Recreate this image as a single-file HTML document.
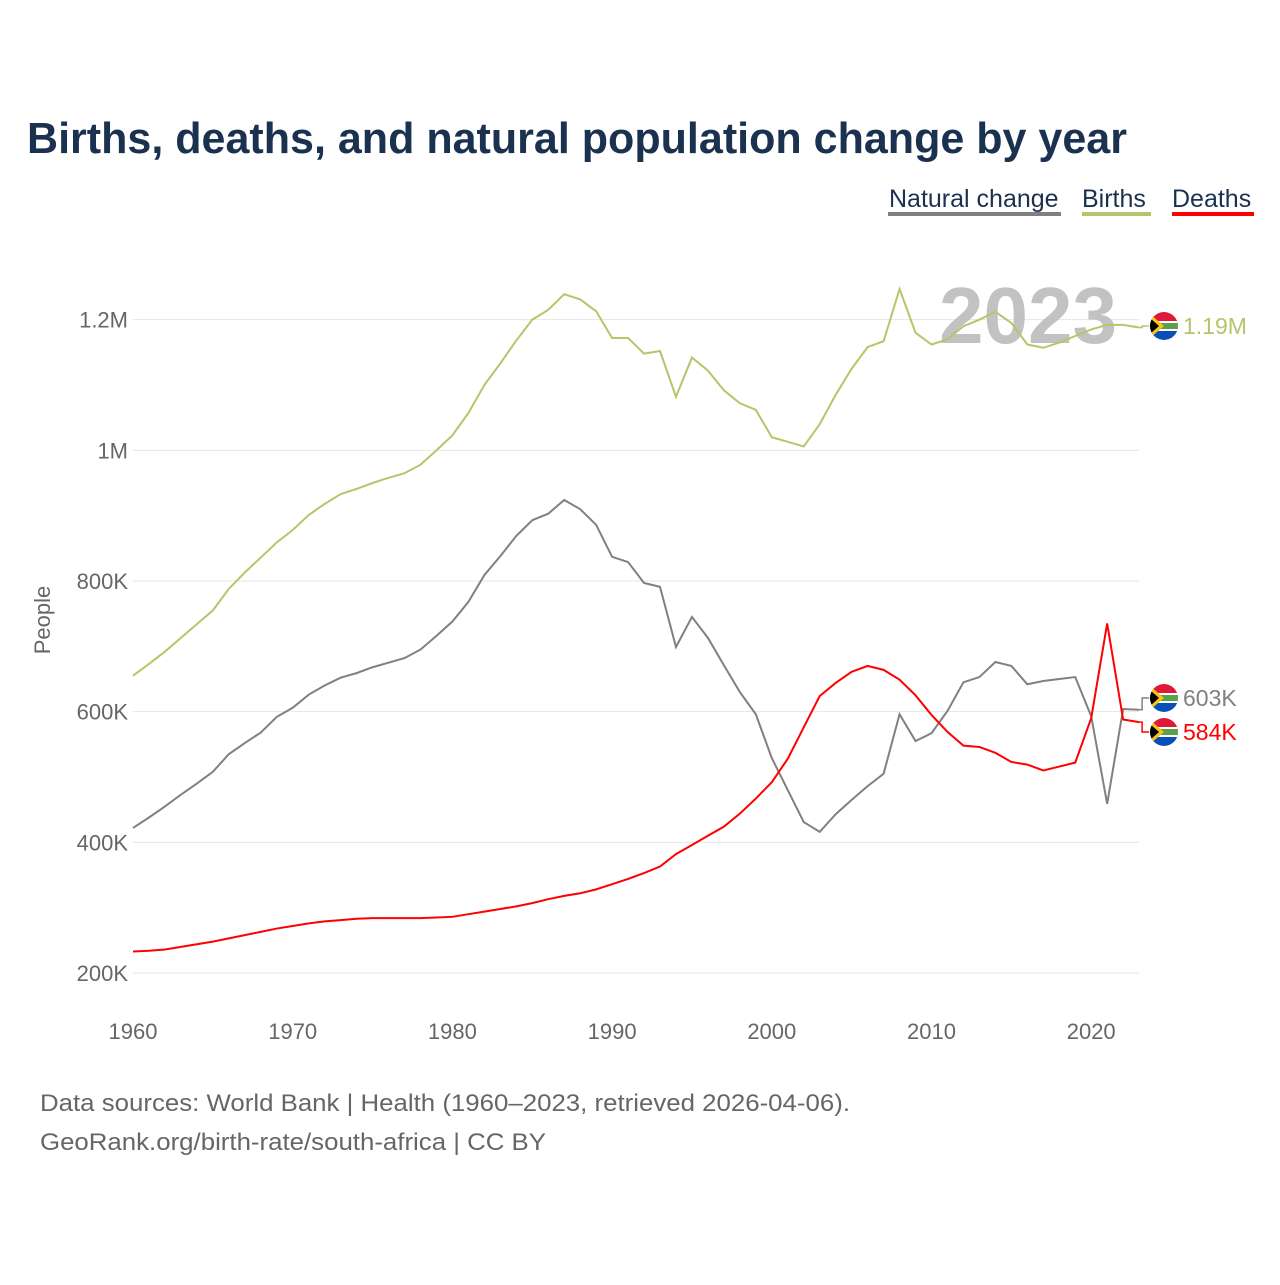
<!DOCTYPE html>
<html><head><meta charset="utf-8"><style>
body{margin:0;background:#fff;}
svg text{font-family:"Liberation Sans",sans-serif;}
</style></head><body>
<svg width="1280" height="1280" viewBox="0 0 1280 1280" xmlns="http://www.w3.org/2000/svg">
<defs>
<clipPath id="fc"><circle cx="0" cy="0" r="14"/></clipPath>
<g id="flag">
<g clip-path="url(#fc)">
<rect x="-14" y="-14" width="28" height="14" fill="#e0193a"/>
<rect x="-14" y="0" width="28" height="14" fill="#0a4fb5"/>
<rect x="-14" y="-5" width="28" height="10" fill="#fff"/>
<rect x="-14" y="-3" width="28" height="6" fill="#5ba14a"/>
<polygon points="-14,-12 0,0 -14,12" fill="#f5c518"/>
<polygon points="-14,-8 -5,0 -14,8" fill="#000"/>
</g></g>
</defs>
<text x="27" y="153" font-size="44" font-weight="bold" fill="#1a3150" textLength="1100" lengthAdjust="spacingAndGlyphs">Births, deaths, and natural population change by year</text>
<g>
<g><text x="889" y="207" font-size="25" fill="#1a3150">Natural change</text><rect x="888" y="212" width="173" height="4" fill="#808080"/></g>
<g><text x="1082" y="207" font-size="25" fill="#1a3150">Births</text><rect x="1082" y="212" width="69" height="4" fill="#b5c56a"/></g>
<g><text x="1172" y="207" font-size="25" fill="#1a3150">Deaths</text><rect x="1172" y="212" width="82" height="4" fill="#ff0000"/></g>
</g>
<g id="grid"></g>
<text x="1117" y="343" font-size="80" font-weight="bold" fill="#bbbbbb" fill-opacity="0.9" text-anchor="end">2023</text>
<g id="lines"></g>
<text transform="translate(50,620) rotate(-90)" font-size="22" fill="#666" text-anchor="middle">People</text>
<text x="40" y="1111" font-size="24" fill="#666" textLength="810" lengthAdjust="spacingAndGlyphs">Data sources: World Bank | Health (1960–2023, retrieved 2026-04-06).</text>
<text x="40" y="1150" font-size="24" fill="#666" textLength="506" lengthAdjust="spacingAndGlyphs">GeoRank.org/birth-rate/south-africa | CC BY</text>
</svg>
<script>
const years=[];for(let y=1960;y<=2023;y++)years.push(y);
const births=[655,673,692,713,734,755,788,813,836,859,878,901,918,933,941,950,958,965,978,1000,1023,1057,1100,1133,1168,1200,1215,1239,1231,1213,1172,1172,1148,1152,1082,1142,1122,1092,1072,1062,1020,1013,1006,1040,1085,1125,1158,1167,1247,1180,1162,1170,1190,1200,1212,1195,1162,1157,1165,1175,1185,1192,1192,1188];
const deaths=[233,234,236,240,244,248,253,258,263,268,272,276,279,281,283,284,284,284,284,285,286,290,294,298,302,307,313,318,322,328,336,344,353,363,382,396,410,424,444,467,492,528,576,624,644,661,670,664,649,625,595,569,548,546,537,523,519,510,516,522,590,735,588,584];
const natural=[422,438,455,473,490,508,535,552,568,592,606,626,640,652,659,668,675,682,695,716,738,768,809,838,869,893,903,924,910,886,837,829,797,791,699,745,713,671,630,596,529,480,431,416,443,465,486,505,596,555,567,601,645,653,676,670,642,647,650,653,593,459,604,603];
const yTicks=[200,400,600,800,1000,1200];
const yTickLabels=["200K","400K","600K","800K","1M","1.2M"];
const xTicks=[1960,1970,1980,1990,2000,2010,2020];
const ns="http://www.w3.org/2000/svg";
const X=y=>133+(y-1960)*15.97;
const Y=v=>973-(v-200)*0.65333;
const grid=document.getElementById('grid');
yTicks.forEach((t,i)=>{
 const l=document.createElementNS(ns,'line');
 l.setAttribute('x1',133);l.setAttribute('x2',1139);l.setAttribute('y1',Y(t));l.setAttribute('y2',Y(t));
 l.setAttribute('stroke','#e6e6e6');l.setAttribute('stroke-width','1');
 
 
 grid.appendChild(l);
 const tx=document.createElementNS(ns,'text');
 tx.setAttribute('x',128);tx.setAttribute('y',Y(t)+8);tx.setAttribute('text-anchor','end');
 tx.setAttribute('font-size','22');tx.setAttribute('fill','#666');tx.textContent=yTickLabels[i];
 
 
 grid.appendChild(tx);
});
xTicks.forEach(t=>{
 const tx=document.createElementNS(ns,'text');
 tx.setAttribute('x',X(t));tx.setAttribute('y',1039);tx.setAttribute('text-anchor','middle');
 tx.setAttribute('font-size','22');tx.setAttribute('fill','#666');tx.textContent=t;
 
 
 grid.appendChild(tx);
});
const lines=document.getElementById('lines');
function series(arr,color,name,labelY,label){
 const p=document.createElementNS(ns,'polyline');
 p.setAttribute('points',arr.map((v,i)=>X(years[i])+','+Y(v)).join(' '));
 p.setAttribute('fill','none');p.setAttribute('stroke',color);p.setAttribute('stroke-width','2');
 
 
 lines.appendChild(p);
 const lx=X(years[years.length-1]);const ly=Y(arr[arr.length-1]);
 const c=document.createElementNS(ns,'polyline');
 c.setAttribute('points',lx+','+ly+' '+(lx+3)+','+ly+' '+(lx+3)+','+labelY+' '+(lx+10)+','+labelY);
 c.setAttribute('fill','none');c.setAttribute('stroke',color);c.setAttribute('stroke-width','1.5');
 
 
 lines.appendChild(c);
 const f=document.createElementNS(ns,'use');
 f.setAttribute('href','#flag');f.setAttribute('x',1164);f.setAttribute('y',labelY);
 
 
 lines.appendChild(f);
 const t=document.createElementNS(ns,'text');
 t.setAttribute('x',1183);t.setAttribute('y',labelY+8);t.setAttribute('font-size','23');t.setAttribute('fill',color);
 t.textContent=label;
 
 
 lines.appendChild(t);
}
series(births,'#b5c56a','births',326,'1.19M');
series(natural,'#808080','natural-change',698,'603K');
series(deaths,'#ff0000','deaths',732,'584K');
</script>
</body></html>
